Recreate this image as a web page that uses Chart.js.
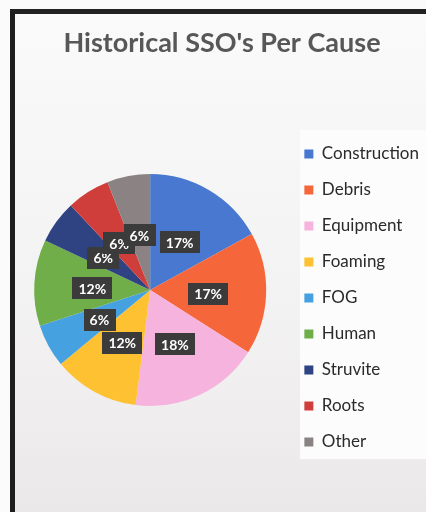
<!DOCTYPE html>
<html>
<head>
<meta charset="utf-8">
<script src="https://cdn.jsdelivr.net/npm/chart.js@4/dist/chart.umd.min.js"></script>
<style>
  html, body { margin: 0; padding: 0; background: #fbfbfb; width: 426px; height: 512px; overflow: hidden; }
  #frame { position: absolute; left: 10px; top: 9px; width: 416px; height: 503px;
           border-left: 5px solid #1e1e1e; border-top: 5px solid #222;
           background: linear-gradient(#fafafa, #f3f2f2 60%, #ebe8e9); box-sizing: border-box; }
  #legendBg { position: absolute; left: 300px; top: 130px; width: 126px; height: 329px; background: #fcfcfc; }
  #wrap { position: absolute; left: 0; top: 0; width: 426px; height: 512px; }
</style>
</head>
<body>
<div id="frame"></div>
<div id="legendBg"></div>
<div id="wrap"><canvas id="c" width="426" height="512"></canvas></div>
<script>
const titleText = "Historical SSO's Per Cause";
const categories = ["Construction", "Debris", "Equipment", "Foaming", "FOG", "Human", "Struvite", "Roots", "Other"];
const percentValues = [17, 17, 18, 12, 6, 12, 6, 6, 6];
const sliceColors = ["#4878cf", "#f5663a", "#f6b3de", "#fdc132", "#46a1e0", "#6fae49", "#2f4382", "#cf3e3a", "#8a8283"];

const labelPlugin = {
  id: 'sliceLabels',
  afterDatasetsDraw(chart) {
    const meta = chart.getDatasetMeta(0);
    const ctx = chart.ctx;
    ctx.save();
    ctx.font = 'bold 14px Lato';
    ctx.textAlign = 'center';
    ctx.textBaseline = 'middle';
    meta.data.forEach((arc, i) => {
      const p = arc.getProps(['x', 'y', 'startAngle', 'endAngle', 'outerRadius'], true);
      const mid = (p.startAngle + p.endAngle) / 2;
      const r = p.outerRadius * 0.5;
      const cx = p.x + Math.cos(mid) * r;
      const cy = p.y + Math.sin(mid) * r + 2;
      const text = chart.data.datasets[0].data[i] + '%';
      const w = ctx.measureText(text).width + 12;
      const h = 22;
      ctx.fillStyle = '#3b3b3b';
      ctx.fillRect(Math.round(cx - w / 2), Math.round(cy - h / 2), Math.round(w), h);
      ctx.fillStyle = '#ffffff';
      ctx.fillText(text, cx, cy + 1);
    });
    ctx.restore();
  }
};

new Chart(document.getElementById('c'), {
  type: 'pie',
  data: {
    labels: categories,
    datasets: [{
      data: percentValues,
      backgroundColor: sliceColors,
      borderWidth: 0,
      radius: 116
    }]
  },
  options: {
    responsive: false,
    animation: false,
    layout: { padding: { left: 15, right: -3, top: 0, bottom: 37 } },
    plugins: {
      tooltip: { enabled: false },
      title: {
        display: true,
        text: titleText,
        color: '#575757',
        font: { family: 'Lato', size: 27, weight: 'bold', lineHeight: 1.2 },
        padding: { top: 26.8, bottom: 45.8 }
      },
      legend: {
        position: 'right',
        fullSize: false,
        title: { display: true, text: '', font: { size: 10, lineHeight: 1.2 }, padding: 2 },
        labels: {
          boxWidth: 9,
          boxHeight: 9,
          padding: 19,
          color: '#2a2a2a',
          font: { family: 'Lato', size: 17 }
        }
      }
    }
  },
  plugins: [labelPlugin]
});
</script>
</body>
</html>
